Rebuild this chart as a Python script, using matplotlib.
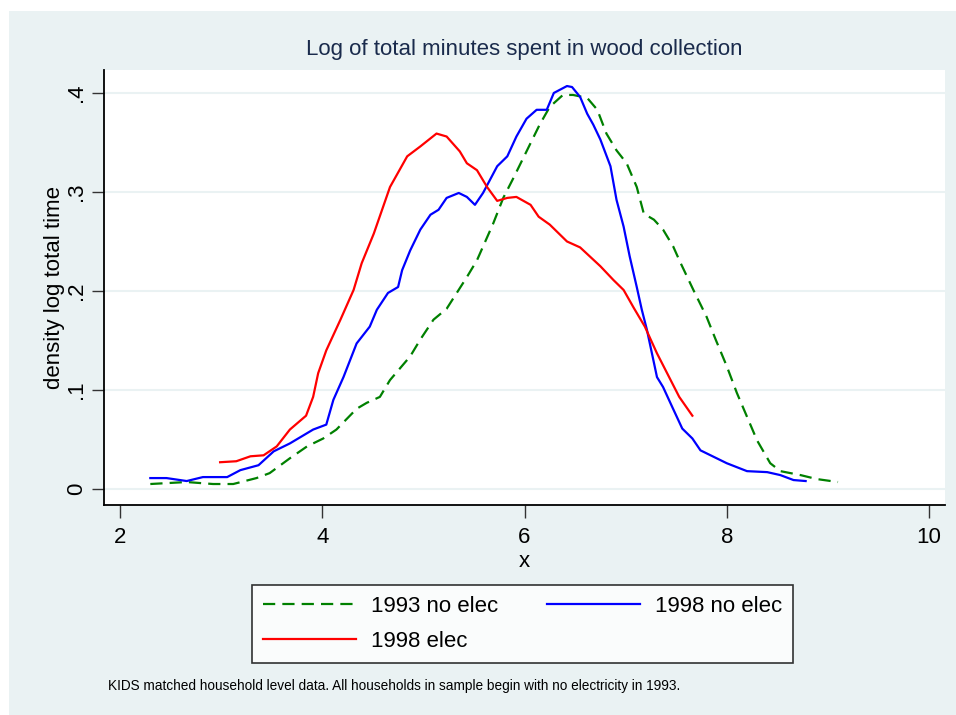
#KERNEL DENSITY OF LOG WOOD COLLECTION TIME

#LIBRARIES

import matplotlib
matplotlib.use("Agg")
import matplotlib.pyplot as plt
from matplotlib.patches import Rectangle

plt.rcParams['font.family'] = ['Liberation Sans', 'DejaVu Sans']

#DATA

x_93_noelec = [2.30, 2.66, 2.92, 3.12, 3.35, 3.48, 3.68, 3.85, 4.01, 4.14, 4.34, 4.44, 4.57,
               4.67, 4.87, 4.97, 5.10, 5.23, 5.33, 5.43, 5.53, 5.69, 5.79, 5.89, 6.02, 6.15,
               6.25, 6.38, 6.48, 6.62, 6.72, 6.81, 6.91, 7.01, 7.11, 7.18, 7.28, 7.37, 7.47,
               7.54, 7.67, 7.80, 7.89, 8.00, 8.10, 8.20, 8.30, 8.43, 8.53, 8.73, 8.89, 9.10]
y_93_noelec = [.005, .007, .005, .005, .011, .016, .031, .043, .051, .060, .081, .087, .093,
               .110, .134, .151, .171, .182, .198, .214, .231, .268, .294, .314, .341, .368,
               .386, .398, .398, .395, .383, .359, .342, .329, .305, .278, .272, .262, .245,
               .229, .201, .174, .151, .124, .097, .073, .049, .026, .018, .014, .010, .007]

x_98_noelec = [2.30, 2.46, 2.66, 2.82, 3.06, 3.19, 3.37, 3.52, 3.68, 3.91, 4.04, 4.11, 4.21,
               4.34, 4.47, 4.54, 4.65, 4.75, 4.79, 4.87, 4.97, 5.07, 5.15, 5.23, 5.35, 5.43,
               5.51, 5.59, 5.73, 5.83, 5.92, 6.02, 6.12, 6.22, 6.29, 6.42, 6.47, 6.55, 6.62,
               6.68, 6.75, 6.85, 6.91, 6.98, 7.04, 7.11, 7.16, 7.21, 7.26, 7.31, 7.37, 7.46,
               7.56, 7.66, 7.74, 7.80, 8.00, 8.20, 8.40, 8.53, 8.66, 8.78]
y_98_noelec = [.011, .011, .008, .012, .012, .019, .024, .038, .046, .060, .065, .090, .113,
               .147, .164, .181, .198, .204, .221, .241, .262, .277, .282, .294, .299, .295,
               .287, .299, .326, .336, .356, .374, .383, .383, .400, .407, .406, .396, .379,
               .368, .353, .326, .292, .265, .235, .204, .181, .161, .137, .113, .103, .083,
               .061, .051, .039, .036, .026, .018, .017, .014, .009, .008]

x_98_elec = [2.99, 3.15, 3.29, 3.42, 3.55, 3.68, 3.84, 3.91, 3.96, 4.04, 4.18, 4.31, 4.39,
             4.51, 4.67, 4.84, 4.97, 5.13, 5.23, 5.36, 5.43, 5.53, 5.63, 5.73, 5.83, 5.92,
             6.06, 6.14, 6.25, 6.42, 6.55, 6.75, 6.88, 6.98, 7.08, 7.19, 7.31, 7.41, 7.53, 7.66]
y_98_elec = [.027, .028, .033, .034, .043, .060, .074, .093, .117, .140, .171, .201, .228,
             .258, .305, .336, .346, .359, .356, .341, .329, .322, .305, .291, .294, .295,
             .287, .275, .267, .250, .244, .225, .211, .201, .183, .164, .137, .117, .093, .074]

x_ticks = [2, 4, 6, 8, 10]
y_ticks = [0, .1, .2, .3, .4]
y_tick_labels = ["0", ".1", ".2", ".3", ".4"]

bg = "#EAF2F3"

#PLOT

fig = plt.figure(figsize=(9.56, 7.15), dpi=100)
fig.patch.set_facecolor("white")
fig.add_artist(Rectangle((9/956, 0), 1, 1 - 11/715, transform=fig.transFigure,
                         facecolor=bg, edgecolor="none", zorder=-10))

ax = fig.add_axes([104/956, 1 - 505/715, (945 - 104)/956, (505 - 70)/715])
ax.set_facecolor("white")

g, = ax.plot(x_93_noelec, y_93_noelec, color="#008000", lw=1.6, dashes=(5.5, 3.2))
b, = ax.plot(x_98_noelec, y_98_noelec, color="#0000FF", lw=1.6)
r, = ax.plot(x_98_elec, y_98_elec, color="#FF0000", lw=1.6)

ax.set_xlim(1.842, 10.158)
ax.set_ylim(-0.0162, 0.4232)
ax.set_xticks(x_ticks)
ax.set_yticks(y_ticks)
ax.set_yticklabels(y_tick_labels, rotation=90, va="center")
ax.tick_params(labelsize=16, length=9, width=1, pad=7, color="#333333")
ax.tick_params(axis="y", pad=3)
ax.grid(axis="y", color=bg, lw=1.5)
ax.set_axisbelow(True)
for s in ["top", "right"]:
    ax.spines[s].set_visible(False)
for s in ["left", "bottom"]:
    ax.spines[s].set_linewidth(1.3)

ax.set_xlabel("x", fontsize=16, labelpad=2)
ax.set_ylabel("density log total time", fontsize=16, labelpad=1)

fig.text(524.5/956, 1 - 50/715, "Log of total minutes spent in wood collection",
         ha="center", va="center", fontsize=16, color="#1a2b4c")

leg = fig.legend([g, r, b], ["1993 no elec", "1998 elec", "1998 no elec"],
                 ncol=2, loc="center", bbox_to_anchor=(522.5/956, 1 - 624/715),
                 fontsize=16, frameon=True, fancybox=False, handlelength=4.2,
                 handletextpad=0.65, columnspacing=2.2, labelspacing=0.62,
                 borderpad=0.5)
leg.get_frame().set_edgecolor("black")
leg.get_frame().set_linewidth(1.2)

fig.text(108/956, 1 - 686/715,
         "KIDS matched household level data. All households in sample begin with no electricity in 1993.",
         ha="left", va="center", fontsize=9.8)

fig.savefig("out.png", dpi=100)
